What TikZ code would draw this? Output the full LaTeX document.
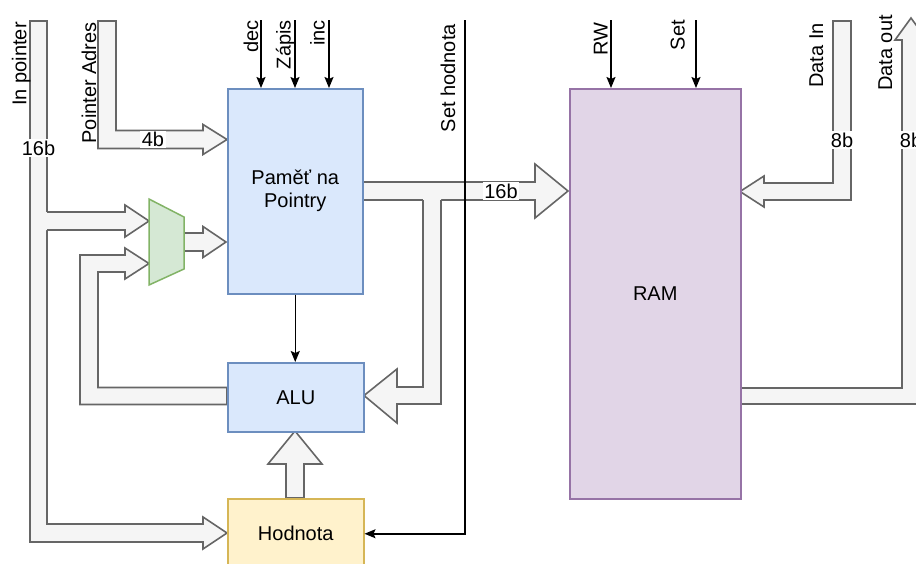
\documentclass[tikz,border=0pt]{standalone}
\usepackage{fontspec}
\setmainfont{Liberation Sans}
\usetikzlibrary{arrows.meta}
\definecolor{bluefill}{HTML}{DAE8FC}
\definecolor{blueline}{HTML}{6C8EBF}
\definecolor{yelfill}{HTML}{FFF2CC}
\definecolor{yelline}{HTML}{D6B656}
\definecolor{purfill}{HTML}{E1D5E7}
\definecolor{purline}{HTML}{9673A6}
\definecolor{grnfill}{HTML}{D5E8D4}
\definecolor{grnline}{HTML}{82B366}
\definecolor{flexfillc}{HTML}{F5F5F5}
\definecolor{flexlinec}{HTML}{666666}
\newcommand\dfont{\fontsize{20}{23}\selectfont}
\tikzset{
  box/.style={draw, line width=1.5pt, inner sep=0pt, anchor=north west, font=\dfont, align=center},
  flex/.style={fill=flexfillc, draw=flexlinec, line width=1.6pt, line join=miter},
  flexfill/.style={fill=flexfillc},
  flexline/.style={draw=flexlinec, line width=1.6pt, line join=miter},
  sig/.style={draw=black, line width=1.5pt, -{Stealth[length=11pt,width=9pt,inset=2pt]}},
  lab/.style={rotate=90, anchor=base east, inner sep=0pt, font=\dfont},
  bw/.style={fill=white, inner sep=1.5pt, font=\dfont}
}
\begin{document}
\begin{tikzpicture}[x=1pt,y=-1pt]
\useasboundingbox (0,0) rectangle (916,563);
\clip (0,0) rectangle (916,563);

% ---- flex arrows ----
% Pointer Adres
\draw[flex] (98,21) -- (116,21) -- (116,130.5) -- (203,130.5) -- (203,124.5) -- (227,139.5) -- (203,154.5) -- (203,148.5) -- (98,148.5) -- cycle;
% In pointer -> Hodnota
\draw[flex] (30,21) -- (47,21) -- (47,524) -- (203,524) -- (203,517) -- (227,533) -- (203,549) -- (203,542) -- (30,542) -- cycle;
% In pointer branch -> mux
\fill[flexfill] (38,212) -- (125,212) -- (125,205) -- (149,221) -- (125,237) -- (125,230) -- (38,230) -- cycle;
\draw[flexline] (47,212) -- (125,212) -- (125,205) -- (149,221) -- (125,237) -- (125,230) -- (47,230);
% ALU loop -> mux
\draw[flex] (227,387.5) -- (98,387.5) -- (98,272) -- (125,272) -- (125,279) -- (149,263.5) -- (125,248) -- (125,255) -- (80,255) -- (80,404.5) -- (227,404.5) -- cycle;
% mux -> memory
\draw[flex] (184,233) -- (203,233) -- (203,226.5) -- (226,242) -- (203,257.5) -- (203,251) -- (184,251) -- cycle;
% memory -> RAM
\draw[flex] (362,182) -- (535,182) -- (535,164) -- (568,191) -- (535,218) -- (535,200) -- (362,200) -- cycle;
% branch -> ALU
\fill[flexfill] (423,191) -- (423,387) -- (397,387) -- (397,369) -- (364,395.5) -- (397,423) -- (397,404) -- (441,404) -- (441,191) -- cycle;
\draw[flexline] (423,200) -- (423,387) -- (397,387) -- (397,369) -- (364,395.5) -- (397,423) -- (397,404) -- (441,404) -- (441,200);
% Hodnota -> ALU
\draw[flex] (286,498) -- (286,464) -- (268,464) -- (295,431) -- (322,464) -- (304,464) -- (304,498) -- cycle;
% Data In -> RAM
\draw[flex] (833,21) -- (851,21) -- (851,200) -- (764,200) -- (764,207) -- (740,191.5) -- (764,176) -- (764,183) -- (833,183) -- cycle;
% RAM -> Data out
\draw[flex] (740,388) -- (902,388) -- (902,40) -- (895,40) -- (911,18) -- (927,40) -- (920,40) -- (920,404) -- (740,404) -- cycle;

% bus width labels
\node[bw] (w1) at (38.5,148) {16b};
\node[bw] (w2) at (153,139.5) {4b};
\node[bw] (w3) at (501,191) {16b};
\node[bw] (w4) at (842,140) {8b};
\node[bw] (w5) at (911,140) {8b};

% ---- blocks ----
\node[box, fill=bluefill, draw=blueline, minimum width=135pt, minimum height=205pt] (mem) at (227,88) {Paměť na\\Pointry};
\node[box, fill=bluefill, draw=blueline, minimum width=136pt, minimum height=69pt] (alu) at (227,362) {ALU};
\node[box, fill=yelfill, draw=yelline, minimum width=136pt, minimum height=70pt] (hod) at (227,498) {Hodnota};
\node[box, fill=purfill, draw=purline, minimum width=171pt, minimum height=410pt] (ram) at (569,88) {RAM};
\draw[fill=grnfill, draw=grnline, line width=1.5pt] (149,199) -- (184,217) -- (184,269) -- (149,285) -- cycle;

% ---- control signals ----
\coordinate (cdec) at (261,20);
\coordinate (czap) at (295,20);
\coordinate (cinc) at (329,20);
\coordinate (crw) at (611,20);
\coordinate (cset) at (696,20);
\coordinate (csh) at (465,20);
\draw[sig] (cdec) -- (cdec |- mem.north);
\draw[sig] (czap) -- (czap |- mem.north);
\draw[sig] (cinc) -- (cinc |- mem.north);
\draw[sig] (crw) -- (crw |- ram.north);
\draw[sig] (cset) -- (cset |- ram.north);
\draw[sig] (csh) -- (csh |- hod.east) -- (hod.east);
\draw[sig] (mem.south) -- (mem.south |- alu.north);

% ---- labels ----
\node[lab] (linp) at (26.5,22) {In pointer};
\node[lab] (ladr) at (96,22) {Pointer Adres};
\node[lab] (ldec) at (258,20) {dec};
\node[lab] (lzap) at (290.5,20) {Zápis};
\node[lab] (linc) at (324.5,20) {inc};
\node[lab] (lsh) at (455,24) {Set hodnota};
\node[lab] (lrw) at (607.5,22) {RW};
\node[lab] (lset) at (684.5,20) {Set};
\node[lab] (ldin) at (823,23) {Data In};
\node[lab] (ldout) at (892,15) {Data out};
\end{tikzpicture}
\end{document}
